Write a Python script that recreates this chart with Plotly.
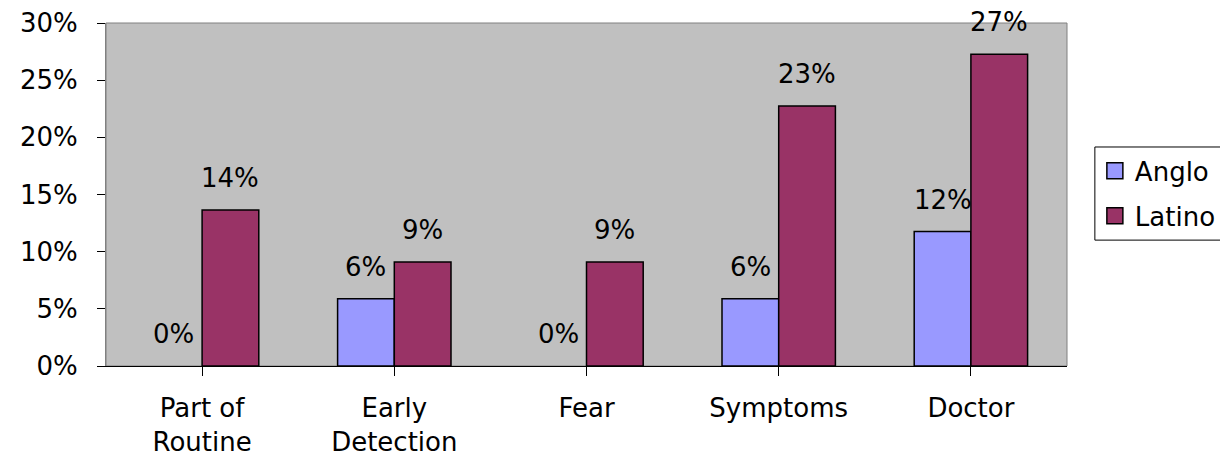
import plotly.graph_objects as go

categories = ["Part of<br>Routine", "Early<br>Detection", "Fear", "Symptoms", "Doctor"]
anglo = [0.0, 0.0588, 0.0, 0.0588, 0.1176]
latino = [0.1364, 0.0909, 0.0909, 0.2273, 0.2727]
series_names = ["Anglo", "Latino"]
colors = ["#9999FF", "#993366"]
y_ticks = [0, 0.05, 0.10, 0.15, 0.20, 0.25, 0.30]

FONT = "DejaVu Sans"
FS = 26
BARGAP = 0.41

fig = go.Figure()
for name, vals, col in zip(series_names, [anglo, latino], colors):
    fig.add_trace(go.Bar(
        x=list(range(len(categories))), y=vals, name=name, showlegend=False,
        marker=dict(color=col,
                    line=dict(color="black", width=[0 if v == 0 else 1.5 for v in vals])),
    ))
# legend entries (square swatches like the original)
for name, col in zip(series_names, colors):
    fig.add_trace(go.Scatter(
        x=[None], y=[None], mode="markers", name=name, legendgroup=name,
        marker=dict(symbol="square", size=16, color=col, line=dict(color="black", width=1.5)),
    ))

half = (1 - BARGAP) / 4
for i in range(len(categories)):
    for vals, off in ((anglo, -half), (latino, half)):
        fig.add_annotation(
            x=i + off, y=vals[i], xref="x", yref="y",
            text=f"{round(vals[i]*100)}%", showarrow=False,
            yanchor="middle", yshift=32,
            font=dict(family=FONT, size=FS, color="black"),
        )

# plot-area frame
fig.add_shape(type="rect", xref="paper", yref="paper", x0=0, y0=0, x1=1, y1=1,
              line=dict(color="#808080", width=1), layer="below")
# legend frame (runs off the right edge as in the original)
fig.add_shape(type="rect", xref="paper", yref="paper", x0=1.029, y0=0.367, x1=1.25, y1=0.6385,
              line=dict(color="black", width=1), fillcolor="white", layer="below")

# page body has an 8px margin, so the figure is sized/offset to compensate
fig.update_layout(
    width=1220, height=449,
    margin=dict(l=98, r=161, t=15, b=91, autoexpand=False),
    paper_bgcolor="white", plot_bgcolor="#C0C0C0",
    barmode="group", bargap=BARGAP, bargroupgap=0,
    font=dict(family=FONT, size=FS, color="black"),
    showlegend=True,
    legend=dict(
        x=1.029, y=0.503, xanchor="left", yanchor="middle",
        bgcolor="rgba(0,0,0,0)", borderwidth=0,
        font=dict(family=FONT, size=FS), tracegroupgap=8,
        traceorder="grouped", itemsizing="trace",
    ),
)
fig.update_xaxes(
    tickmode="array", tickvals=list(range(len(categories))), ticktext=categories,
    range=[-0.5, len(categories) - 0.5],
    showline=True, linecolor="black", linewidth=1,
    ticks="outside", ticklen=9, tickcolor="black",
    showgrid=False, zeroline=False, ticklabelstandoff=10,
)
fig.update_xaxes(tickson="boundaries")
fig.update_yaxes(
    range=[0, 0.30], tickvals=y_ticks, tickformat=".0%",
    showline=True, linecolor="#808080", linewidth=1,
    ticks="outside", ticklen=8, tickcolor="black",
    showgrid=False, zeroline=False, ticklabelstandoff=14,
)
fig.write_html("out.html")
